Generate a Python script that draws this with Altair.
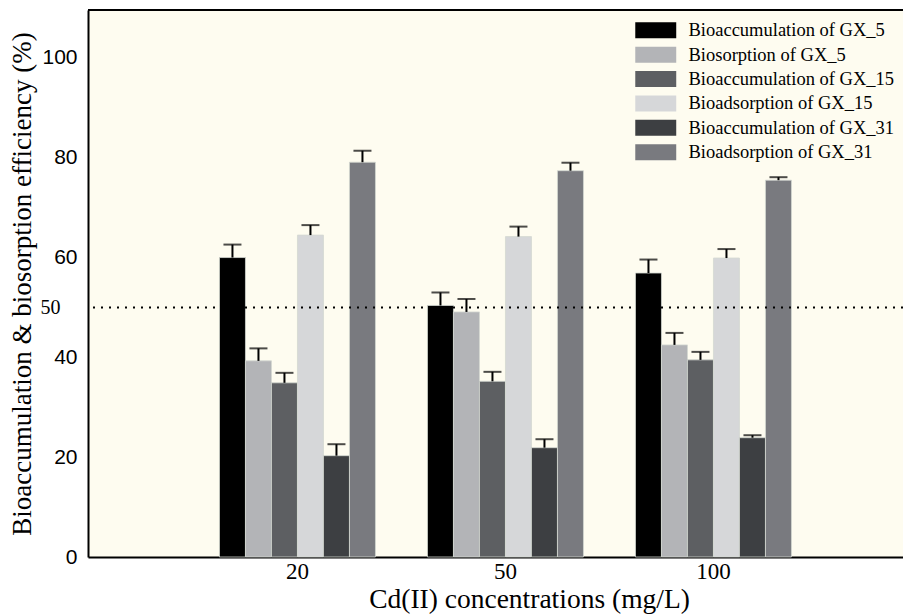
import altair as alt
import pandas as pd

concentrations = ["20", "50", "100"]
series = [
    "Bioaccumulation of GX_5",
    "Biosorption of GX_5",
    "Bioaccumulation of GX_15",
    "Bioadsorption of GX_15",
    "Bioaccumulation of GX_31",
    "Bioadsorption of GX_31",
]
colors = ["#000000", "#B3B4B7", "#5D5F62", "#D6D7D9", "#3D3F42", "#797A7F"]

values_20 = [60.0, 39.3, 34.9, 64.5, 20.3, 79.1]
values_50 = [50.4, 49.1, 35.2, 64.2, 21.9, 77.4]
values_100 = [56.9, 42.5, 39.5, 59.9, 23.9, 75.5]
errors_20 = [2.6, 2.5, 2.0, 2.0, 2.3, 2.3]
errors_50 = [2.6, 2.6, 1.9, 2.0, 1.7, 1.6]
errors_100 = [2.7, 2.4, 1.6, 1.8, 0.5, 0.6]

y_ticks = [0, 20, 40, 50, 60, 80, 100]
threshold = [50]

rows = []
for conc, vals, errs in zip(concentrations, [values_20, values_50, values_100],
                            [errors_20, errors_50, errors_100]):
    for s, v, e in zip(series, vals, errs):
        rows.append({"conc": conc, "series": s, "value": v, "top": v + e})
df = pd.DataFrame(rows)

W = 815
H = 547
serif = "Liberation Serif"
sans = "Liberation Sans"

x_enc = alt.X("conc:N", sort=concentrations,
              scale=alt.Scale(paddingInner=0.25, paddingOuter=0.5841, align=0.541),
              axis=alt.Axis(title="Cd(II) concentrations (mg/L)", labelAngle=0,
                            labelFont=serif, labelFontSize=23, labelColor="black",
                            labelPadding=3, ticks=False, domainColor="black",
                            domainWidth=2, titleFont=serif, titleFontSize=27.5,
                            titleFontWeight="normal", titleColor="black",
                            titleBaseline="alphabetic", titleY=50, titleX=441))
xo_enc = alt.XOffset("series:N", sort=series,
                     scale=alt.Scale(paddingInner=0, paddingOuter=0))
y_scale = alt.Scale(domain=[0, 109.6], nice=False)

bars = alt.Chart(df).mark_bar(stroke="#d4d8d2", strokeWidth=0.8).encode(
    x=x_enc,
    xOffset=xo_enc,
    y=alt.Y("value:Q", scale=y_scale,
            axis=alt.Axis(title="Bioaccumulation & biosorption efficiency (%)",
                          values=y_ticks, grid=False, ticks=False,
                          domainColor="black", domainWidth=2,
                          labelColor="black",
                          labelFont={"condition": {"test": "datum.value === 50", "value": serif}, "value": sans},
                          labelFontSize={"condition": {"test": "datum.value === 50", "value": 20}, "value": 21},
                          labelPadding={"condition": {"test": "datum.value === 50", "value": 28}, "value": 11},
                          titleFont=serif, titleFontSize=27, titleFontWeight="normal",
                          titleColor="black", titleX=-66, titleY=H / 2,
                          titleBaseline="middle", titleAngle=-90)),
    color=alt.Color("series:N", sort=series,
                    scale=alt.Scale(domain=series, range=colors),
                    legend=alt.Legend(title=None, orient="none", legendX=558.5, legendY=11,
                                      symbolType="M-2.56,-1H2.56V1H-2.56Z",
                                      symbolSize=256, symbolStrokeWidth=0,
                                      labelFont=serif, labelFontSize=18.5,
                                      labelColor="black", labelOffset=23.5,
                                      rowPadding=5.4, padding=0, labelLimit=400)),
)

err_rule = alt.Chart(df).mark_rule(color="black", strokeWidth=2).encode(
    x=alt.X("conc:N", sort=concentrations), xOffset=xo_enc,
    y="value:Q", y2="top:Q")
err_cap = alt.Chart(df).mark_tick(color="black", thickness=2, size=18).encode(
    x=alt.X("conc:N", sort=concentrations), xOffset=xo_enc,
    y=alt.Y("top:Q", scale=y_scale))

dotted = alt.Chart(pd.DataFrame({"y": threshold})).mark_rule(
    color="black", strokeWidth=2, strokeDash=[2, 6]).encode(y=alt.Y("y:Q", scale=y_scale))

top_line = alt.Chart(pd.DataFrame({"y": threshold})).mark_rule(
    color="black", strokeWidth=2).encode(x=alt.value(0), x2=alt.value(W), y=alt.value(0))

chart = alt.layer(bars, err_rule, err_cap, dotted, top_line).properties(
    width=W, height=H,
    autosize=alt.AutoSizeParams(type="none"),
    padding={"left": 80, "top": 2, "right": 0, "bottom": 60},
    background="white",
).configure_view(fill="#FEFCF0", stroke=None)

chart.save("out.html", embed_options={"renderer": "svg", "actions": False})
